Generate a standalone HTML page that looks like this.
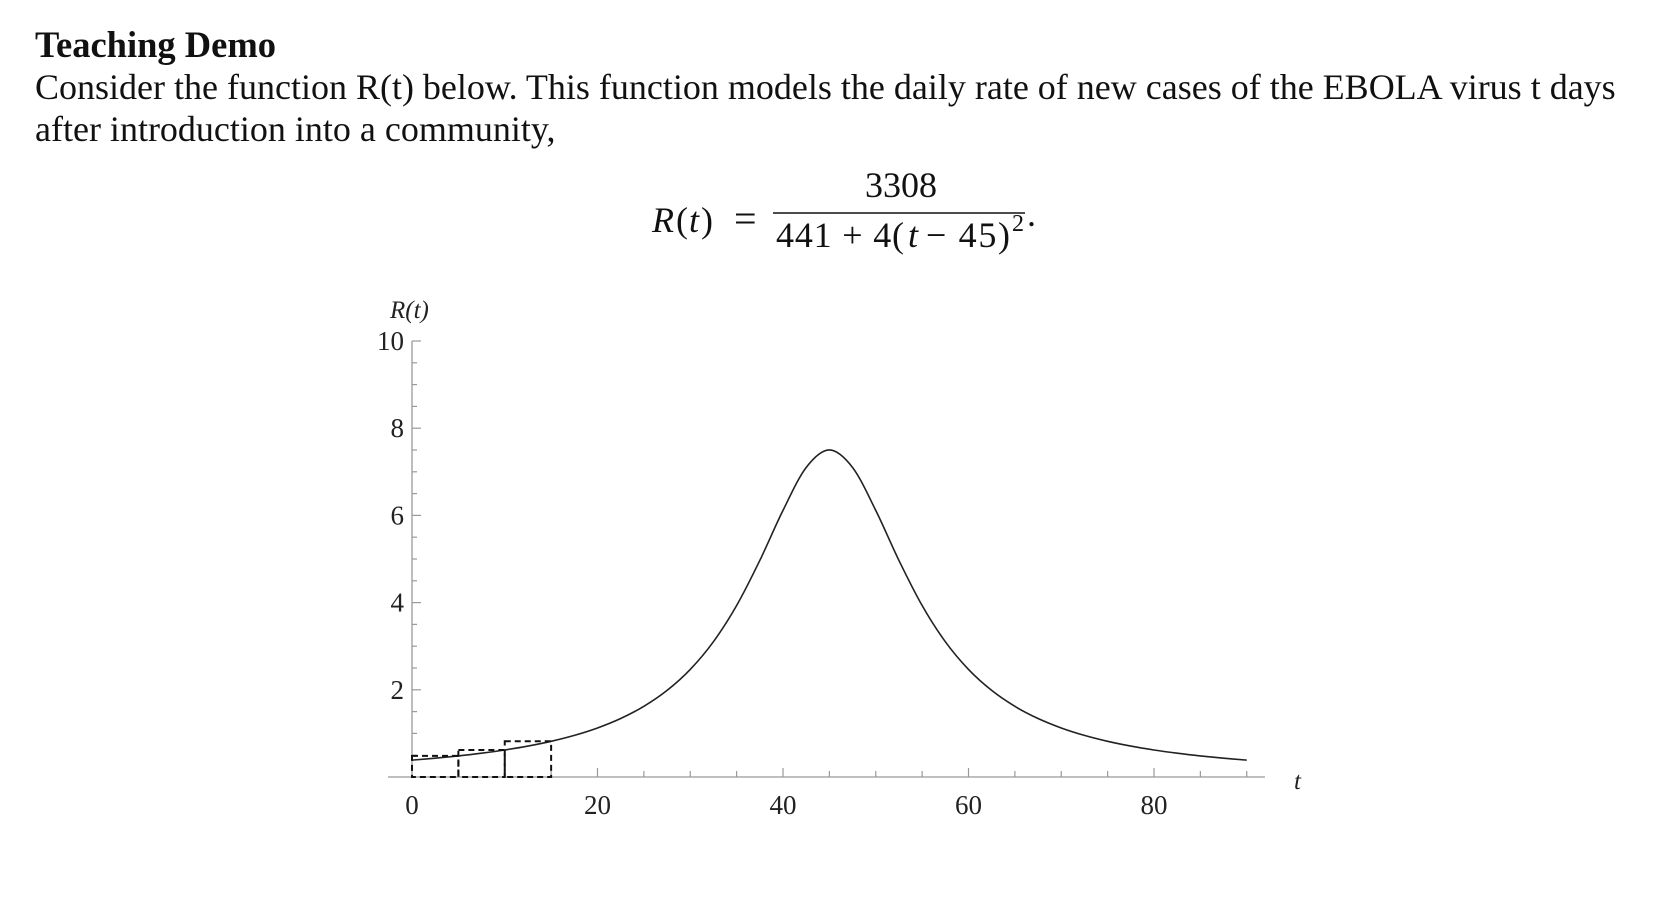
<!DOCTYPE html>
<html><head><meta charset="utf-8">
<style>
html,body{margin:0;padding:0;background:#fff;width:1660px;height:906px;overflow:hidden}
body{font-family:"Liberation Serif",serif;color:#111}
.t{position:absolute;white-space:nowrap;font-size:36px;line-height:1}
</style></head><body>
<div class="t" style="left:35px;top:27px;font-weight:bold;font-size:36.5px">Teaching Demo</div>
<div class="t" style="left:35px;top:69px">Consider the function R(t) below. This function models the daily rate of new cases of the EBOLA virus t days</div>
<div class="t" style="left:35px;top:111px">after introduction into a community,</div>
<svg width="1660" height="906" style="position:absolute;left:0;top:0">
<g font-family="Liberation Serif, serif" font-size="36" fill="#111">
<text x="652" y="232" font-style="italic">R</text><text x="676" y="232">(</text><text x="689" y="232" font-style="italic">t</text><text x="701" y="232">)</text>
<text x="734" y="232" font-size="40">=</text>
<text x="901" y="197" text-anchor="middle">3308</text>
<line x1="773" y1="213" x2="1025" y2="213" stroke="#111" stroke-width="1.5"/>
<text x="776" y="247" textLength="128" lengthAdjust="spacing">441 + 4(</text><text x="908" y="247" font-style="italic">t</text><text x="926" y="247" textLength="84" lengthAdjust="spacing">− 45)</text>
<text x="1012" y="231" font-size="24">2</text>
<text x="1027" y="226">.</text>
</g>
<g id="plot"></g>
</svg>
<script>
const tVals=[0,2.5,5,7.5,10,12.5,15,17.5,20,22.5,25,27.5,30,32.5,35,37.5,40,42.5,45,47.5,50,52.5,55,57.5,60,62.5,65,67.5,70,72.5,75,77.5,80,82.5,85,87.5,90];
const rVals=[0.387,0.4315,0.4836,0.5453,0.6193,0.709,0.8186,0.9544,1.1248,1.3414,1.6208,1.9856,2.4668,3.1032,3.9334,4.967,6.1146,7.0987,7.5011,7.0987,6.1146,4.967,3.9334,3.1032,2.4668,1.9856,1.6208,1.3414,1.1248,0.9544,0.8186,0.709,0.6193,0.5453,0.4836,0.4315,0.387];
const xTickLabels=[0,20,40,60,80];
const yTickLabels=[2,4,6,8,10];
const rectLeft=[0,5,10];
const rectHeight=[0.4836,0.6193,0.8186];
const NS='http://www.w3.org/2000/svg';
const g=document.getElementById('plot');
const X=t=>412+t*9.275, Y=v=>777-v*43.6;
function mk(tag,attrs,txt){const e=document.createElementNS(NS,tag);for(const k in attrs)e.setAttribute(k,attrs[k]);if(txt!==undefined)e.textContent=txt;g.appendChild(e);return e;}
let e;
e=mk('line',{x1:388,y1:Y(0),x2:1265,y2:Y(0),stroke:'#999','stroke-width':1.3});


e=mk('line',{x1:X(0),y1:Y(10),x2:X(0),y2:Y(0),stroke:'#999','stroke-width':1.3});


for(let t=5;t<=90;t+=5){e=mk('line',{x1:X(t),y1:Y(0),x2:X(t),y2:Y(0)-(t%20===0?9:6),stroke:'#999','stroke-width':1.2});

}
for(let v=0.5;v<=10;v+=0.5){e=mk('line',{x1:X(0),y1:Y(v),x2:X(0)+(v%2===0?9:5),y2:Y(v),stroke:'#999','stroke-width':1.2});

}
xTickLabels.forEach(t=>{e=mk('text',{x:X(t),y:814,'text-anchor':'middle','font-size':27,'font-family':'Liberation Serif, serif',fill:'#222'},t);

});
yTickLabels.forEach(v=>{e=mk('text',{x:404,y:Y(v)+9,'text-anchor':'end','font-size':27,'font-family':'Liberation Serif, serif',fill:'#222'},v);

});
e=mk('text',{x:1294,y:789,'font-size':25,'font-style':'italic','font-family':'Liberation Serif, serif',fill:'#222'},'t');


e=mk('text',{x:390,y:318,'font-size':25,'font-style':'italic','font-family':'Liberation Serif, serif',fill:'#222'},'R(t)');


const P=tVals.map((t,i)=>[X(t),Y(rVals[i])]);
let d='M'+P[0][0]+','+P[0][1];
for(let i=0;i<P.length-1;i++){const p0=P[Math.max(0,i-1)],p1=P[i],p2=P[i+1],p3=P[Math.min(P.length-1,i+2)];
d+=' C'+(p1[0]+(p2[0]-p0[0])/6)+','+(p1[1]+(p2[1]-p0[1])/6)+' '+(p2[0]-(p3[0]-p1[0])/6)+','+(p2[1]-(p3[1]-p1[1])/6)+' '+p2[0]+','+p2[1];}
e=mk('path',{d:d,fill:'none',stroke:'#222','stroke-width':1.6});


rectLeft.forEach((t,i)=>{e=mk('rect',{x:X(t),y:Y(rectHeight[i]),width:X(t+5)-X(t),height:Y(0)-Y(rectHeight[i]),fill:'none',stroke:'#111','stroke-width':2,'stroke-dasharray':'6,4'});

});
</script>
</body></html>
